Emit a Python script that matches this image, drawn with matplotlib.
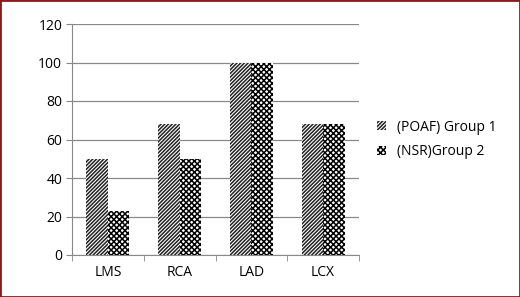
import numpy as np
import matplotlib.pyplot as plt
from matplotlib.patches import Rectangle

categories = ["LMS", "RCA", "LAD", "LCX"]
group1 = [50, 68, 100, 68]
group2 = [23, 50, 100, 68]
series_names = ["(POAF) Group 1", "(NSR)Group 2"]

plt.rcParams['font.family'] = ['Open Sans', 'DejaVu Sans']
plt.rcParams['hatch.linewidth'] = 1.1

fig = plt.figure(figsize=(5.2, 2.97), dpi=100)
ax = fig.add_axes([72 / 520, 1 - 255 / 297, (359 - 72) / 520, (255 - 24) / 297])

x = np.arange(len(categories))
w = 0.3
ax.bar(x - w / 2, group1, w, color='white', edgecolor='#222222', hatch='/' * 9, linewidth=0, label=series_names[0], zorder=3)
ax.bar(x + w / 2, group2, w, color='white', edgecolor='black', hatch='x' * 6, linewidth=0, label=series_names[1], zorder=3)

ax.set_xlim(-0.5, len(categories) - 0.5)
ax.set_ylim(0, 120)
ax.set_yticks(range(0, 121, 20))
ax.set_xticks(x)
ax.set_xticklabels(categories)
ax.set_xticks(np.arange(-0.5, len(categories)), minor=True)
ax.tick_params(axis='x', which='major', length=0, pad=7, labelsize=10)
ax.tick_params(axis='x', which='minor', length=4, color='#888888', direction='out')
ax.tick_params(axis='y', length=4, color='#888888', labelsize=10, pad=3)
ax.yaxis.grid(True, color='#888888', linewidth=0.9, zorder=0)
for s in ['top', 'right']:
    ax.spines[s].set_visible(False)
for s in ['left', 'bottom']:
    ax.spines[s].set_color('#888888')

ax.legend(loc='center left', bbox_to_anchor=(1.02, 0.5), frameon=False, fontsize=10,
          handlelength=0.6, handleheight=0.6, handletextpad=0.8, labelspacing=0.7)

fig.patches.append(Rectangle((0, 0), 1, 1, transform=fig.transFigure, fill=False,
                             edgecolor='#8b1a1a', linewidth=2))

fig.savefig('out.png', dpi=100)
